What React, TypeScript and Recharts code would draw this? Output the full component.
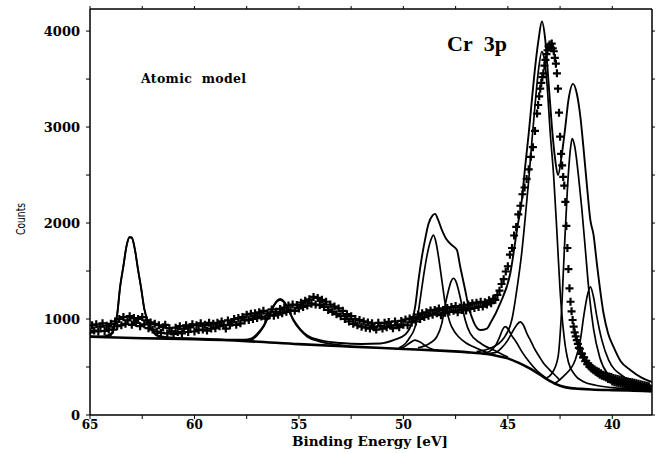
import React from 'react';
import { ComposedChart, Line, Scatter, XAxis, YAxis, Customized } from 'recharts';

type Pt = [number, number];

// ---- measured spectrum (crosses) ----
const coarseStart = 65.0;
const coarseStep = 0.1;
const countsCoarse: number[] = [
  860, 935, 880, 945, 870, 920, 955, 875, 930, 890,
  950, 890, 975, 925, 1000, 935, 1020, 950, 985, 1030,
  940, 1010, 960, 1000, 925, 1020, 945, 985, 905, 965,
  890, 950, 870, 935, 855, 915, 940, 850, 905, 870,
  845, 910, 865, 925, 850, 900, 935, 865, 915, 945,
  870, 935, 885, 955, 890, 940, 880, 960, 900, 950,
  905, 960, 925, 975, 940, 900, 985, 935, 965, 1000,
  940, 1010, 955, 1020, 985, 1045, 990, 1055, 1000, 1060,
  1010, 1070, 1025, 1085, 1005, 1060, 1040, 1100, 1035, 1075,
  1045, 1105, 1060, 1120, 1075, 1140, 1090, 1150, 1085, 1145,
  1110, 1170, 1125, 1190, 1140, 1205, 1160, 1230, 1150, 1220,
  1145, 1200, 1125, 1180, 1095, 1150, 1075, 1130, 1050, 1110,
  1030, 1085, 1000, 1050, 975, 1030, 950, 1000, 935, 990,
  920, 975, 910, 965, 900, 955, 915, 890, 960, 925,
  900, 960, 915, 970, 930, 905, 975, 935, 915, 980,
  940, 995, 935, 1005, 965, 1020, 975, 1045, 1000, 1060,
  1020, 1070, 1035, 1090, 1045, 1095, 1060, 1110, 1040, 1095,
  1065, 1115, 1075, 1125, 1085, 1135, 1070, 1120, 1095, 1140,
  1090, 1150, 1105, 1165, 1115, 1170, 1125, 1180, 1130, 1175,
  1150, 1195, 1165, 1210, 1200, 1250, 1295, 1365, 1415, 1495,
  1550, 1670, 1740, 1870, 1960, 2090, 2180, 2300, 2370, 2460,
  2560, 2690, 2790, 2960, 3140,
];
const fineStart = 43.55;
const fineStep = 0.05;
const countsFine: number[] = [
  3230, 3320, 3400, 3460, 3520, 3560, 3640, 3700, 3760, 3800,
  3840, 3860, 3830, 3870, 3820, 3790, 3720, 3660, 3560, 3400,
  3150, 2900, 2720, 2600, 2480, 2390, 2220, 1970, 1740, 1520,
  1320, 1180, 1080, 990, 920, 860, 820, 780, 740, 700,
  690, 640, 640, 600, 600, 560, 565, 530, 535, 505,
  510, 485, 490, 465, 475, 450, 460, 435, 450, 420,
  435, 410, 420, 400, 415, 390, 405, 375, 400, 370,
  395, 350, 385, 340, 380, 335, 375, 330, 370, 325,
  365, 320, 360, 315, 355, 310, 350, 305, 345, 300,
  340, 295, 335, 295, 330, 290, 325, 290, 320, 285,
  315, 285, 310, 280, 305, 280, 300, 275,
];

// ---- fitted curves (each drawn on top of the background) ----
const background: Pt[] = [
  [65, 815], [62.5, 800], [60, 790], [57.5, 770], [55, 738], [52.5, 712], [50, 688],
  [48, 668], [47, 655], [46, 635], [45.5, 615], [45, 590], [44.5, 545], [44, 490],
  [43.5, 425], [43, 355], [42.5, 305], [42, 280], [41.5, 272], [41, 266], [40, 259],
  [39, 254], [38.1, 250],
];
const peak63: Pt[] = [
  [64.3, 808], [64.0, 830], [63.85, 900], [63.7, 1040], [63.56, 1330], [63.4, 1550],
  [63.25, 1760], [63.1, 1850], [63.0, 1845], [62.85, 1720], [62.7, 1510], [62.56, 1330],
  [62.4, 1100], [62.2, 960], [62.0, 870], [61.8, 825], [61.5, 805],
];
const peak56: Pt[] = [
  [57.6, 772], [57.3, 780], [57.0, 830], [56.7, 915], [56.38, 1060], [56.05, 1180],
  [55.9, 1200], [55.75, 1180], [55.57, 1125], [55.28, 990], [54.94, 885], [54.6, 815],
  [54.0, 765], [53.0, 728], [52.5, 714],
];
const peak49: Pt[] = [
  [50.4, 685], [50.0, 705], [49.7, 750], [49.45, 780], [49.2, 760], [48.9, 715],
  [48.6, 685], [48.3, 672],
];
const peak48a: Pt[] = [
  [50.2, 700], [49.9, 745], [49.67, 815], [49.5, 880], [49.35, 990], [49.2, 1200],
  [49.04, 1440], [48.88, 1650], [48.72, 1800], [48.56, 1875], [48.44, 1800], [48.32, 1650],
  [48.16, 1405], [48.0, 1165], [47.76, 955], [47.56, 870], [47.36, 815], [47.0, 750],
  [46.64, 710], [46.0, 650],
];
const peak47b: Pt[] = [
  [49.3, 700], [48.72, 750], [48.4, 815], [48.16, 955], [48.0, 1145], [47.84, 1300],
  [47.72, 1390], [47.6, 1425], [47.48, 1390], [47.36, 1300], [47.2, 1145], [47.04, 990],
  [46.8, 850], [46.32, 750], [45.52, 660], [45.0, 605],
];
const peak45d: Pt[] = [
  [46.2, 645], [45.9, 660], [45.6, 720], [45.4, 810], [45.25, 890], [45.13, 920],
  [45.0, 900], [44.85, 840], [44.6, 760], [44.3, 650], [44.0, 560], [43.6, 460], [43.2, 390],
];
const peak44e: Pt[] = [
  [46.0, 640], [45.6, 650], [45.3, 700], [45.0, 780], [44.8, 860], [44.6, 930],
  [44.41, 970], [44.25, 935], [44.09, 850], [43.9, 770], [43.77, 710], [43.5, 610],
  [43.29, 540], [43.0, 470], [42.81, 430], [42.5, 360],
];
const peak43f: Pt[] = [
  [46.5, 660], [45.8, 700], [45.2, 800], [44.8, 1000], [44.54, 1350], [44.33, 1700],
  [44.17, 2050], [44.0, 2450], [43.85, 2850], [43.69, 3250], [43.53, 3600], [43.37, 3785],
  [43.25, 3700], [43.13, 3460], [42.97, 2935], [42.81, 2500], [42.65, 1900], [42.5, 1300],
  [42.3, 800], [42.1, 550], [41.8, 420], [41.4, 350], [40.8, 310], [40.0, 285], [38.1, 260],
];
const peak42g: Pt[] = [
  [43.2, 380], [42.9, 430], [42.6, 600], [42.45, 1000], [42.3, 1700], [42.15, 2350],
  [42.0, 2780], [41.92, 2880], [41.8, 2800], [41.6, 2450], [41.46, 2150], [41.3, 1750],
  [41.1, 1250], [40.9, 900], [40.6, 600], [40.2, 420], [39.6, 330], [38.9, 285], [38.1, 262],
];
const peak41h: Pt[] = [
  [42.8, 320], [42.35, 400], [41.77, 575], [41.53, 780], [41.37, 1025], [41.21, 1230],
  [41.05, 1335], [40.9, 1230], [40.74, 1025], [40.5, 780], [40.18, 575], [39.46, 400],
  [38.8, 330], [38.18, 295],
];
const envelope: Pt[] = [
  [65, 822], [64.6, 818], [64.3, 822], [64.0, 845], [63.85, 910], [63.7, 1050], [63.56, 1335],
  [63.4, 1555], [63.25, 1765], [63.1, 1855], [63.0, 1850], [62.85, 1725], [62.7, 1515],
  [62.56, 1335], [62.4, 1105], [62.2, 965], [62.0, 878], [61.8, 835], [61.5, 815], [61.0, 805],
  [60.0, 797], [59.0, 790], [58.0, 785], [57.6, 785], [57.3, 795], [57.0, 845], [56.7, 928],
  [56.38, 1070], [56.05, 1190], [55.9, 1210], [55.75, 1190], [55.57, 1135], [55.28, 1000],
  [54.94, 895], [54.6, 828], [54.0, 780], [53.0, 750], [52.0, 740], [51.1, 745], [50.47, 780],
  [49.9, 840], [49.6, 960], [49.42, 1150], [49.28, 1400], [49.12, 1640], [48.96, 1830],
  [48.8, 1990], [48.6, 2080], [48.48, 2095], [48.35, 2040], [48.16, 1930], [47.92, 1825],
  [47.68, 1770], [47.44, 1720], [47.28, 1545], [47.04, 1300], [46.88, 1130], [46.64, 970],
  [46.32, 885], [46.0, 900], [45.84, 955], [45.36, 1165], [44.88, 1480], [44.54, 1960],
  [44.33, 2240], [44.17, 2590], [44.0, 2935], [43.85, 3280], [43.69, 3630], [43.53, 3910],
  [43.37, 4100], [43.21, 3910], [43.05, 3460], [42.89, 3000], [42.73, 2655], [42.6, 2500],
  [42.41, 2725], [42.25, 3000], [42.1, 3280], [41.88, 3450], [41.7, 3350], [41.53, 3110],
  [41.37, 2760], [41.21, 2380], [41.05, 2030], [40.9, 1880], [40.74, 1580], [40.42, 1060],
  [40.2, 850], [39.94, 710], [39.6, 560], [39.14, 470], [38.6, 390], [38.1, 345],
];

const xTicks = [40, 42.5, 45, 47.5, 50, 52.5, 55, 57.5, 60, 62.5, 65];
const yTicks = [0, 500, 1000, 1500, 2000, 2500, 3000, 3500, 4000];

const toRows = (pts: Pt[]) => pts.map(([e, c]) => ({ e, c }));
const spectrum = [
  ...countsCoarse.map((c, i) => ({ e: +(coarseStart - i * coarseStep).toFixed(2), c })),
  ...countsFine.map((c, i) => ({ e: +(fineStart - i * fineStep).toFixed(2), c })),
];

const fitCurves: Pt[][] = [peak63, peak56, peak49, peak48a, peak47b, peak45d, peak44e, peak43f, peak42g, peak41h];

const Cross = (props: any) => {
  const { cx, cy } = props;
  if (cx == null || cy == null) return null;
  const s = 4;
  return (
    <path
      d={`M${cx - s},${cy}H${cx + s}M${cx},${cy - s}V${cy + s}`}
      stroke="#000"
      strokeWidth={2.2}
      fill="none"
    />
  );
};

const Annotations = () => (
  <g>
    <text x={141} y={83} fontFamily="DejaVu Serif" fontWeight="bold" fontSize={12.5} fill="#000" textLength={105} lengthAdjust="spacing">
      {'Atomic\u00a0\u00a0model'}
    </text>
    <text x={447} y={51} fontFamily="Liberation Serif" fontWeight="bold" fontSize={22} fill="#000">
      {'Cr\u00a0\u00a03p'}
    </text>
    <text x={292} y={446} fontFamily="DejaVu Serif" fontWeight="bold" fontSize={12} fill="#000" textLength={156} lengthAdjust="spacingAndGlyphs">
      Binding Energy [eV]
    </text>
    <text
      x={0}
      y={0}
      transform="translate(25,235) rotate(-90)"
      fontFamily="DejaVu Sans Condensed, Liberation Sans Narrow, sans-serif"
      fontSize={13}
      fill="#000"
      textLength={32}
      lengthAdjust="spacingAndGlyphs"
    >
      Counts
    </text>
  </g>
);

const tickFontX = { fontFamily: 'DejaVu Serif', fontWeight: 'bold', fontSize: 12, fill: '#000' } as any;
const tickFontY = { fontFamily: 'DejaVu Serif', fontWeight: 'bold', fontSize: 13, fill: '#000' } as any;
const axisStroke = { stroke: '#000', strokeWidth: 1.5 };

export default function App() {
  return (
    <div style={{ position: 'absolute', left: 0, top: 0, width: 656, height: 453, background: '#fff' }}>
      <ComposedChart width={656} height={453} margin={{ top: 0, right: 0, bottom: 0, left: 0 }}>
        <XAxis
          xAxisId="b"
          dataKey="e"
          type="number"
          domain={[38.1, 65]}
          reversed
          allowDataOverflow
          ticks={xTicks}
          interval={0}
          height={38}
          tickSize={4}
          tickMargin={1}
          tick={tickFontX}
          tickFormatter={(v: number) => (v % 5 === 0 ? String(v) : '')}
          axisLine={axisStroke}
          tickLine={{ stroke: '#000' }}
        />
        <XAxis
          xAxisId="t"
          orientation="top"
          dataKey="e"
          type="number"
          domain={[38.1, 65]}
          reversed
          allowDataOverflow
          ticks={xTicks}
          interval={0}
          height={9}
          tickSize={3}
          tickFormatter={() => ''}
          axisLine={axisStroke}
          tickLine={{ stroke: '#000' }}
        />
        <YAxis
          yAxisId="l"
          type="number"
          domain={[0, 4230]}
          allowDataOverflow
          ticks={yTicks}
          interval={0}
          width={90}
          tickSize={4}
          tickMargin={6}
          tick={tickFontY}
          tickFormatter={(v: number) => (v % 1000 === 0 ? String(v) : '')}
          axisLine={axisStroke}
          tickLine={{ stroke: '#000' }}
        />
        <YAxis
          yAxisId="r"
          orientation="right"
          type="number"
          domain={[0, 4230]}
          allowDataOverflow
          ticks={yTicks}
          interval={0}
          width={4}
          tickSize={3}
          tickFormatter={() => ''}
          axisLine={axisStroke}
          tickLine={{ stroke: '#000' }}
        />
        <Line
          xAxisId="b"
          yAxisId="l"
          data={toRows(background)}
          dataKey="c"
          type="monotone"
          stroke="#000"
          strokeWidth={2.6}
          dot={false}
          isAnimationActive={false}
        />
        {fitCurves.map((pts, i) => (
          <Line
            key={i}
            xAxisId="b"
            yAxisId="l"
            data={toRows(pts)}
            dataKey="c"
            type="monotone"
            stroke="#000"
            strokeWidth={1.7}
            dot={false}
            isAnimationActive={false}
          />
        ))}
        <Line
          xAxisId="b"
          yAxisId="l"
          data={toRows(envelope)}
          dataKey="c"
          type="monotone"
          stroke="#000"
          strokeWidth={1.9}
          dot={false}
          isAnimationActive={false}
        />
        <Scatter
          xAxisId="b"
          yAxisId="l"
          data={spectrum}
          dataKey="c"
          shape={Cross}
          isAnimationActive={false}
        />
        <Customized component={Annotations} />
      </ComposedChart>
    </div>
  );
}
